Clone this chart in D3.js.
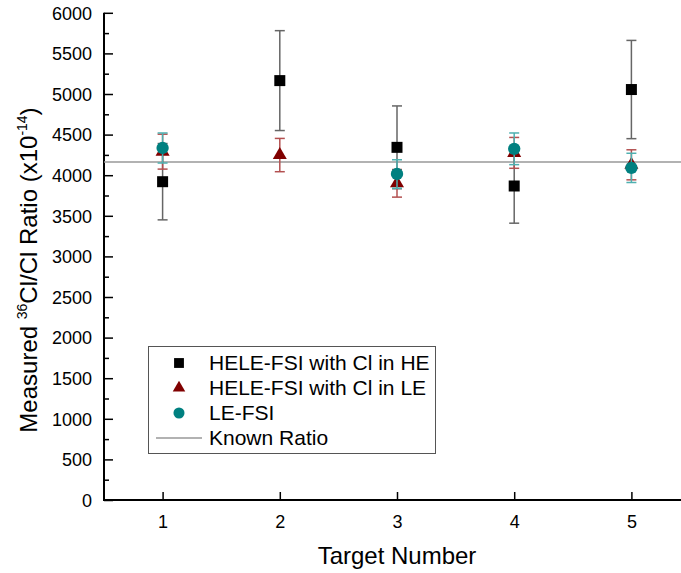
<!DOCTYPE html>
<head>
<meta charset="utf-8">
<title>Measured 36Cl/Cl ratio</title>
<script src="https://cdn.jsdelivr.net/npm/d3@7"></script>
<style>
  body { margin: 0; background: #fff; }
  svg text { font-family: "Liberation Sans", Arial, sans-serif; fill: #000; }
</style>
</head>
<body>
<div id="chart"></div>
<script>
//---------------------------- DATA ----------------------------//
const targets = [1, 2, 3, 4, 5];
const heValues = [3920, 5165, 4343, 3867, 5055];
const heErrors = [470, 615, 510, 458, 605];
const leValues = [4290, 4248, 3900, 4275, 4128];
const leErrors = [215, 205, 170, 190, 185];
// no LE-FSI measurement for target 2
const fsiValues = [4335, null, 4015, 4325, 4090];
const fsiErrors = [185, null, 175, 195, 180];
const knownRatio = 4163;
const yTicks = [0, 500, 1000, 1500, 2000, 2500, 3000, 3500, 4000, 4500, 5000, 5500, 6000];
const seriesNames = ["HELE-FSI with Cl in HE", "HELE-FSI with Cl in LE", "LE-FSI", "Known Ratio"];

//---------------------------- SVG -----------------------------//
const width = 681, height = 573;
const svg = d3.select("#chart").append("svg")
    .attr("width", width)
    .attr("height", height);

const x = d3.scaleLinear().domain([0.5, 5.5]).range([104, 690]);
const y = d3.scaleLinear().domain([0, 6000]).range([500, 12.8]);

//---------------------------- AXES ----------------------------//
// minor y ticks (every 250)
svg.append("g")
    .attr("transform", "translate(104,0)")
    .call(d3.axisRight(y).tickValues(d3.range(250, 6000, 500)).tickSize(5).tickFormat(""))
    .call(g => g.select(".domain").remove())
    .selectAll("line").attr("stroke", "#000").attr("stroke-width", 1.5);

const yAxis = svg.append("g")
    .attr("transform", "translate(104,0)")
    .call(d3.axisRight(y).tickValues(yTicks).tickSize(9).tickFormat(d3.format("d")));
yAxis.select(".domain").attr("stroke-width", 2).attr("d", "M0," + y(6000) + "V" + y(0));
yAxis.selectAll("line").attr("stroke-width", 1.5);
yAxis.selectAll("text")
    .attr("x", -12)
    .attr("dy", "0.35em")
    .style("text-anchor", "end")
    .style("font-size", "18px");

const xAxis = svg.append("g")
    .attr("transform", "translate(0,500)")
    .call(d3.axisTop(x).tickValues(targets).tickSize(8).tickFormat(d3.format("d")));
xAxis.select(".domain").attr("stroke-width", 2).attr("d", "M103,0H" + width);
xAxis.selectAll("line").attr("stroke-width", 1.5);
xAxis.selectAll("text")
    .attr("y", 22)
    .attr("dy", "0.35em")
    .style("font-size", "18px");

// axis titles
svg.append("text")
    .attr("x", 397).attr("y", 564)
    .style("text-anchor", "middle")
    .style("font-size", "24px")
    .text("Target Number");

const yt = svg.append("text")
    .attr("transform", "translate(37,270) rotate(-90)")
    .style("text-anchor", "middle")
    .style("font-size", "24px");
yt.append("tspan").text("Measured ");
yt.append("tspan").attr("dy", -10).style("font-size", "14px").text("36");
yt.append("tspan").attr("dy", 10).text("Cl/Cl Ratio (x10");
yt.append("tspan").attr("dy", -10).style("font-size", "14px").text("-14");
yt.append("tspan").attr("dy", 10).text(")");

//------------------------ KNOWN RATIO -------------------------//
svg.append("line")
    .attr("x1", 104).attr("x2", width)
    .attr("y1", y(knownRatio)).attr("y2", y(knownRatio))
    .attr("stroke", "#999").attr("stroke-width", 1.5);

//------------------------ SERIES ------------------------------//
const series = [
  { vals: heValues, errs: heErrors, color: "#000", bar: "#666", shape: d3.symbolSquare, size: 121 },
  { vals: leValues, errs: leErrors, color: "#800000", bar: "#b35050", shape: d3.symbolTriangle, size: 85 },
  { vals: fsiValues, errs: fsiErrors, color: "#008080", bar: "#4fb0b0", shape: d3.symbolCircle, size: 120 }
];

series.forEach(s => {
  const g = svg.append("g");
  const pts = targets.map((t, i) => ({ t: t, v: s.vals[i], e: s.errs[i] }))
      .filter(d => d.v != null);
  const eb = g.selectAll(".eb").data(pts).enter().append("g")
      .attr("stroke", s.bar).attr("stroke-width", 1.5);
  eb.append("line")
      .attr("x1", d => x(d.t)).attr("x2", d => x(d.t))
      .attr("y1", d => y(d.v - d.e)).attr("y2", d => y(d.v + d.e));
  [-1, 1].forEach(sg => {
    eb.append("line")
        .attr("x1", d => x(d.t) - 5).attr("x2", d => x(d.t) + 5)
        .attr("y1", d => y(d.v + sg * d.e)).attr("y2", d => y(d.v + sg * d.e));
  });
  g.selectAll("path.mk").data(pts).enter().append("path")
      .attr("class", "mk")
      .attr("transform", d => "translate(" + x(d.t) + "," + y(d.v) + ")")
      .attr("d", d3.symbol().type(s.shape).size(s.size))
      .attr("fill", s.color);
});

//---------------------------- LEGEND --------------------------//
const lg = svg.append("g");
lg.append("rect")
    .attr("x", 148.5).attr("y", 346.5).attr("width", 287).attr("height", 107)
    .attr("fill", "#fff").attr("stroke", "#555").attr("stroke-width", 1);
seriesNames.forEach((name, i) => {
  const cy = 363 + i * 25;
  if (i < 3) {
    lg.append("path")
        .attr("transform", "translate(179," + cy + ")")
        .attr("d", d3.symbol().type(series[i].shape).size(series[i].size * 0.8))
        .attr("fill", series[i].color);
  } else {
    lg.append("line")
        .attr("x1", 156).attr("x2", 202).attr("y1", cy).attr("y2", cy)
        .attr("stroke", "#999").attr("stroke-width", 1.5);
  }
  lg.append("text")
      .attr("x", 209).attr("y", cy)
      .attr("dy", "0.35em")
      .style("font-size", "21px")
      .text(name);
});
</script>
</body>
